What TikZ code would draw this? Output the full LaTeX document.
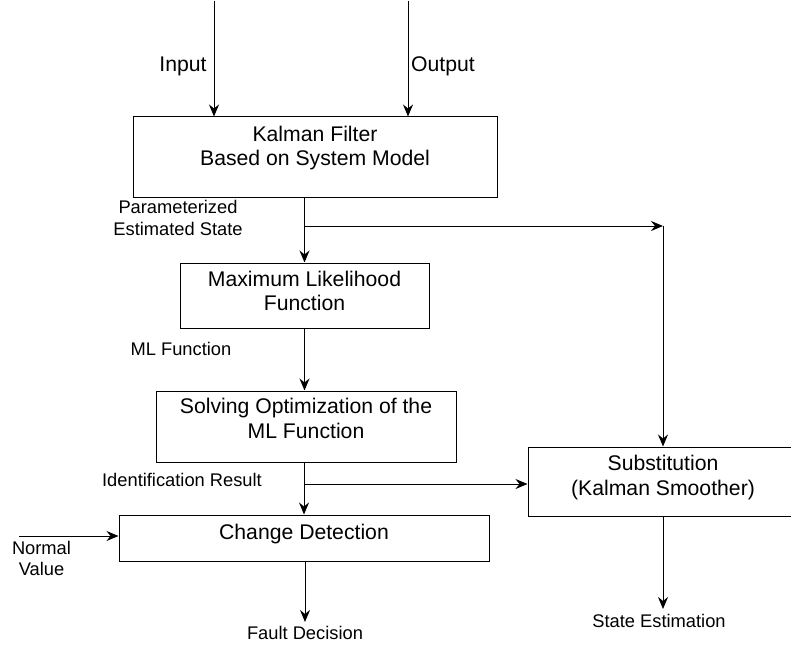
\documentclass[tikz,border=0pt]{standalone}
\usepackage{fontspec}
\setmainfont{Liberation Sans}
\usetikzlibrary{arrows.meta}
\begin{document}
\begin{tikzpicture}[x=1pt,y=-1pt,
  box/.style={draw=black, line width=1pt, rectangle, inner sep=0pt},
  btext/.style={font=\fontsize{21.2}{24.5}\selectfont, align=center, inner sep=0pt, anchor=base},
  ltext/.style={font=\fontsize{18.3}{21.7}\selectfont, align=center, inner sep=0pt, anchor=base},
  arr/.style={line width=1pt, -{Stealth[length=12pt, width=10pt, inset=4pt]}},
  ln/.style={line width=1pt}]
\useasboundingbox (0,0) rectangle (791,647);
\clip (0,0) rectangle (791,647);
% boxes
\node[box, minimum width=364pt, minimum height=80pt] (kf) at (315,157) {};
\node[box, minimum width=249pt, minimum height=65pt] (ml) at (304.5,295.5) {};
\node[box, minimum width=300pt, minimum height=71pt] (sol) at (306,426.5) {};
\node[box, minimum width=370pt, minimum height=46pt] (cd) at (304,538) {};
\node[box, minimum width=270pt, minimum height=69pt] (sub) at (663,481.5) {};
% box texts (base = last line)
\node[btext] (kft) at (315,165.7) {Kalman Filter\\Based on System Model};
\node[btext] (mlt) at (304.5,310.7) {Maximum Likelihood\\Function};
\node[btext] (solt) at (306,438.3) {Solving Optimization of the\\ML Function};
\node[btext] (cdt) at (304,539.3) {Change Detection};
\node[btext] (subt) at (663,495) {Substitution\\(Kalman Smoother)};
% labels
\node[btext] (lin) at (183,72) {Input};
\node[btext] (lout) at (443,72) {Output};
\node[ltext] (lpes) at (178,235) {Parameterized\\Estimated State};
\node[ltext] (lmlf) at (181,355.7) {ML Function};
\node[ltext] (lid) at (182,486.7) {Identification Result};
\node[ltext] (lnv) at (41.5,575.7) {Normal\\Value};
\node[ltext] (lfd) at (305,639) {Fault Decision};
\node[ltext] (lse) at (659,627.7) {State Estimation};
% coordinates
\coordinate (in0) at (214,1);
\coordinate (out0) at (408,1);
\coordinate (c1) at (663,226);
\coordinate (c2) at (304,484);
\coordinate (nv) at (19,536);
\coordinate (fd) at (305,622);
\coordinate (se) at (663,609);
% connectors
\draw[arr] (in0) -- (in0 |- kf.north);
\draw[arr] (out0) -- (out0 |- kf.north);
\draw[arr] (ml.north |- kf.south) -- (ml.north);
\draw[arr] (ml.north |- c1) -- (c1);
\draw[arr] (c1) -- (sub.north);
\draw[arr] (ml.south) -- (ml.south |- sol.north);
\draw[arr] (cd.north |- sol.south) -- (cd.north);
\draw[arr] (c2) -- (c2 -| sub.west);
\draw[arr] (nv) -- (nv -| cd.west);
\draw[arr] (fd |- cd.south) -- (fd);
\draw[arr] (sub.south) -- (se);
\end{tikzpicture}
\end{document}
